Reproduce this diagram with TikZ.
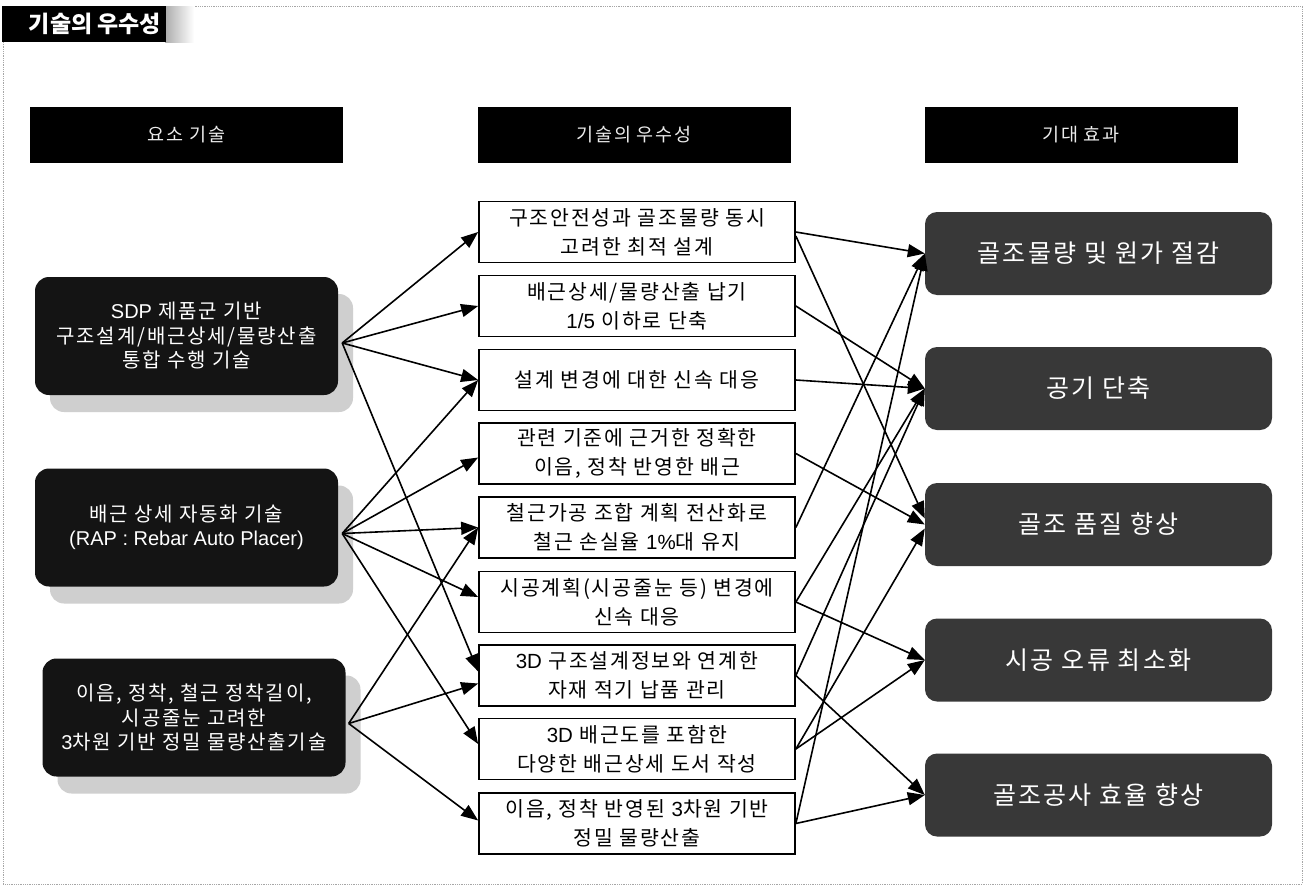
\documentclass[tikz,border=0pt]{standalone}
\usepackage{fontspec}
\setmainfont{Noto Sans CJK KR}
\newfontfamily\kr[LetterSpace=9]{Noto Sans CJK KR}
\newfontfamily\latf{Liberation Sans}
\newcommand\la[1]{{\latf #1}}
\usetikzlibrary{arrows.meta,shadows}
\begin{document}
\begin{tikzpicture}[x=1pt,y=-1pt,
  hdr/.style={fill=black, text=gray!15, minimum width=313pt, minimum height=56pt, inner sep=0pt, font=\kr\fontsize{18.5}{20}\selectfont},
  lbox/.style={fill=black!92, rounded corners=14pt, text=white, align=center, minimum width=303pt, minimum height=118pt, inner sep=0pt, font=\kr\fontsize{20}{24.5}\selectfont, drop shadow={shadow xshift=15pt, shadow yshift=-17pt, fill=gray!38, opacity=1}},
  mbox/.style={draw=black, line width=1.7pt, fill=white, minimum width=316pt, minimum height=61pt, inner sep=0pt, align=center, font=\kr\fontsize{20.5}{29}\selectfont},
  rbox/.style={fill=black!78, rounded corners=12pt, text=white, minimum width=347pt, minimum height=83pt, inner sep=0pt, font=\kr\fontsize{25}{28}\selectfont},
  arr/.style={-{Triangle[length=17pt,width=13pt]}, line width=1.6pt}]
\useasboundingbox (0,0) rectangle (1306,886);
\fill[white] (0,0) rectangle (1306,886);
\draw[gray!70, densely dotted, line width=0.8pt] (3,6) rectangle (1302,884);
% title
\shade[left color=gray!65, right color=white] (165,6) rectangle (194,42);
\fill[black] (2,6) rectangle (166,42);
\node[text=white, font=\bfseries\fontsize{23}{26}\selectfont, inner sep=0pt] (title) at (95,24) {기술의 우수성};
% headers
\node[hdr] (h1) at (186.5,135) {요소 기술};
\node[hdr] (h2) at (634,135) {기술의 우수성};
\node[hdr] (h3) at (1081,135) {기대 효과};
% left boxes
\node[lbox] (L1) at (186.5,336) {\la{SDP} 제품군 기반\\구조설계/배근상세/물량산출\\통합 수행 기술};
\node[lbox] (L2) at (186.5,527.5) {배근 상세 자동화 기술\\\la{(RAP : Rebar Auto Placer)}};
\node[lbox] (L3) at (194,717.5) {이음, 정착, 철근 정착길이,\\시공줄눈 고려한\\\la{3}차원 기반 정밀 물량산출기술};
\coordinate (s1) at ([xshift=4pt,yshift=-7pt]L1.east);
\coordinate (s2) at ([xshift=4pt,yshift=-6pt]L2.east);
\coordinate (s3) at ([xshift=3pt,yshift=-6pt]L3.east);
% middle boxes
\node[mbox] (b1) at (637,232) {구조안전성과 골조물량 동시\\고려한 최적 설계};
\node[mbox] (b2) at (637,306) {배근상세/물량산출 납기\\\la{1/5} 이하로 단축};
\node[mbox] (b3) at (637,380) {설계 변경에 대한 신속 대응};
\node[mbox] (b4) at (637,453.5) {관련 기준에 근거한 정확한\\이음, 정착 반영한 배근};
\node[mbox] (b5) at (637,527.5) {철근가공 조합 계획 전산화로\\철근 손실율 \la{1\%}대 유지};
\node[mbox] (b6) at (637,602) {시공계획(시공줄눈 등) 변경에\\신속 대응};
\node[mbox] (b7) at (637,675.5) {\la{3D} 구조설계정보와 연계한\\자재 적기 납품 관리};
\node[mbox] (b8) at (637,749) {\la{3D} 배근도를 포함한\\다양한 배근상세 도서 작성};
\node[mbox] (b9) at (637,823.5) {이음, 정착 반영된 \la{3}차원 기반\\정밀 물량산출};
% right boxes
\node[rbox] (r1) at (1098.5,253.5) {골조물량 및 원가 절감};
\node[rbox] (r2) at (1098.5,388.5) {공기 단축};
\node[rbox] (r3) at (1098.5,524.5) {골조 품질 향상};
\node[rbox] (r4) at (1098.5,660) {시공 오류 최소화};
\node[rbox] (r5) at (1098.5,795) {골조공사 효율 향상};
% left -> middle
\draw[arr] (s1) -- (b1.west);
\draw[arr] (s1) -- (b2.west);
\draw[arr] (s1) -- (b3.west);
\draw[arr] (s1) -- ([yshift=4pt]b7.west);
\draw[arr] (s2) -- (b3.west);
\draw[arr] (s2) -- ([yshift=-4pt]b4.west);
\draw[arr] (s2) -- (b5.west);
\draw[arr] (s2) -- ([yshift=5pt]b6.west);
\draw[arr] (s2) -- ([yshift=5pt]b8.west);
\draw[arr] (s3) -- (b5.west);
\draw[arr] (s3) -- ([yshift=-8pt]b7.west);
\draw[arr] (s3) -- ([yshift=3pt]b9.west);
% middle -> right
\draw[arr] (b1.east) -- (r1.west);
\draw[arr] ([yshift=-4pt]b1.east) -- ([yshift=6pt]r3.west);
\draw[arr] (b2.east) -- (r2.west);
\draw[arr] (b3.east) -- (r2.west);
\draw[arr] (b4.east) -- (r3.west);
\draw[arr] (b5.east) -- (r1.west);
\draw[arr] (b6.east) -- (r2.west);
\draw[arr] (b6.east) -- (r4.west);
\draw[arr] (b7.east) -- (r2.west);
\draw[arr] (b7.east) -- (r5.west);
\draw[arr] (b8.east) -- ([yshift=-4pt]r3.west);
\draw[arr] (b8.east) -- (r4.west);
\draw[arr] (b9.east) -- (r1.west);
\draw[arr] (b9.east) -- (r5.west);
\end{tikzpicture}
\end{document}
